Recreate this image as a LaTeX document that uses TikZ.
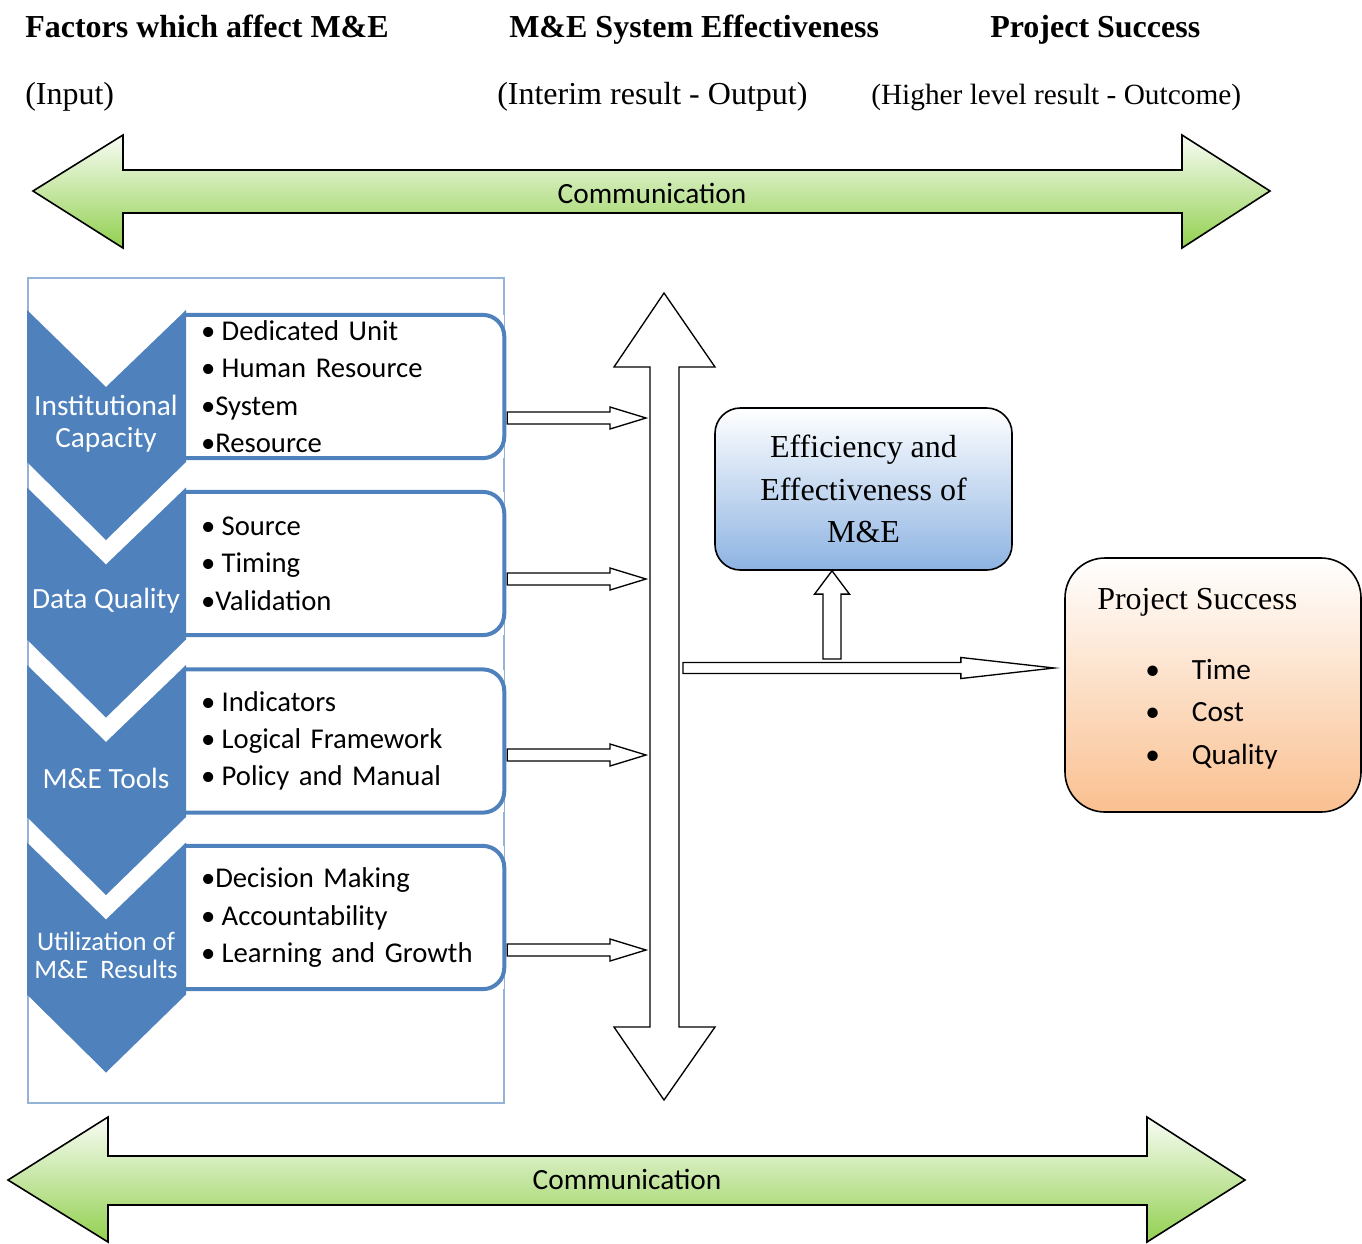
\documentclass[tikz,border=0pt]{standalone}
\usepackage{fontspec}
\setmainfont{Liberation Serif}
\newfontfamily\calibri{Carlito}
\usepackage{tikz}
\usetikzlibrary{calc}
\definecolor{chevB}{RGB}{79,129,189}
\definecolor{frameB}{RGB}{149,179,215}
\definecolor{commG}{RGB}{146,208,80}
\definecolor{effB}{RGB}{141,179,226}
\definecolor{succO}{RGB}{250,192,144}

% hollow block arrow: from, to, half shaft, half head, head length
\newcommand{\blockarrow}[5]{%
  \coordinate (ba-h) at ($(#2)!#5!(#1)$);
  \draw[hollow] ($(#1)!#3!90:(#2)$) -- ($(ba-h)!#3!-90:(#1)$) -- ($(ba-h)!#4!-90:(#1)$) -- (#2)
    -- ($(ba-h)!#4!90:(#1)$) -- ($(ba-h)!#3!90:(#1)$) -- ($(#1)!#3!-90:(#2)$) -- cycle;}
\newcommand{\bul}{\textbullet\hspace{4.8pt}}

\begin{document}
\begin{tikzpicture}[x=0.75pt, y=-0.75pt,
  head/.style={font=\fontsize{24}{28}\selectfont\bfseries, anchor=base west, inner sep=0pt},
  sub/.style={font=\fontsize{24}{28}\selectfont, anchor=base west, inner sep=0pt},
  comm/.style={draw=black, line width=1.2pt, line join=miter, top color=commG!6, bottom color=commG},
  commtext/.style={font=\calibri\fontsize{22}{24}\selectfont, inner sep=0pt},
  chev/.style={fill=chevB},
  clabel/.style={font=\calibri\fontsize{22}{24}\selectfont, text=white, align=center, inner sep=0pt},
  item/.style={rectangle, fill=white, minimum width=238.5pt, minimum height=107pt, text width=216pt,
               align=left, inner xsep=11.25pt, font=\calibri\fontsize{21.5}{28}\selectfont},
  itemline/.style={draw=chevB, line width=3pt, rounded corners=16pt},
  hollow/.style={draw=black, fill=white, line width=1pt, line join=miter},
  eff/.style={rectangle, rounded corners=19pt, draw=black, line width=1.2pt, top color=white,
              bottom color=effB, minimum width=222.75pt, minimum height=121.5pt, align=center,
              font=\fontsize{24}{32}\selectfont},
  succ/.style={rectangle, rounded corners=30pt, draw=black, line width=1.2pt, top color=white,
               bottom color=succO, minimum width=222pt, minimum height=190.5pt}]
  \useasboundingbox (0,0) rectangle (1362,1243);

  % headings
  \node[head] (h1) at (25,37) {Factors which affect M\&E};
  \node[head] (h2) at (509,37) {M\&E System Effectiveness};
  \node[head] (h3) at (990,37) {Project Success};
  \node[sub] (s1) at (25,104) {(Input)};
  \node[sub] (s2) at (497,104) {(Interim result - Output)};
  \node[sub, font=\fontsize{22}{26}\selectfont] (s3) at (871,104) {(Higher level result - Outcome)};

  % communication arrows
  \draw[comm] (33,191) -- (123,135) -- (123,170) -- (1182,170) -- (1182,135) -- (1270,191)
    -- (1182,248) -- (1182,213) -- (123,213) -- (123,248) -- cycle;
  \node[commtext] (ctop) at (652,193) {Communication};
  \draw[comm] (8,1180) -- (108,1117) -- (108,1156) -- (1147,1156) -- (1147,1117) -- (1245,1180)
    -- (1147,1242) -- (1147,1205) -- (108,1205) -- (108,1242) -- cycle;
  \node[commtext] (cbot) at (627,1179) {Communication};

  % factors
  \draw[frameB, line width=1.5pt] (28,278) rectangle (504,1103);
  \node[item] (b1) at (345,386.5) {\bul Dedicated Unit\\ \bul Human Resource\\ \textbullet System\\ \textbullet Resource};
  \node[item] (b2) at (345,563.5) {\bul Source\\ \bul Timing\\ \textbullet Validation};
  \node[item] (b3) at (345,741) {\bul Indicators\\ \bul Logical Framework\\ \bul Policy and Manual};
  \node[item] (b4) at (345,917.5) {\textbullet Decision Making\\ \bul Accountability\\ \bul Learning and Growth};
  \draw[itemline] (b1.north west) -- (b1.north east) -- (b1.south east) -- (b1.south west);
  \draw[itemline] (b2.north west) -- (b2.north east) -- (b2.south east) -- (b2.south west);
  \draw[itemline] (b3.north west) -- (b3.north east) -- (b3.south east) -- (b3.south west);
  \draw[itemline] (b4.north west) -- (b4.north east) -- (b4.south east) -- (b4.south west);

  \fill[chev] (27,310) -- (106,387) -- (186,310) -- (186,462) -- (106,540) -- (27,462) -- cycle;
  \fill[chev] (27,487.5) -- (106,564.5) -- (186,487.5) -- (186,639.5) -- (106,717.5) -- (27,639.5) -- cycle;
  \fill[chev] (27,665) -- (106,742) -- (186,665) -- (186,817) -- (106,895) -- (27,817) -- cycle;
  \fill[chev] (27,842.5) -- (106,919.5) -- (186,842.5) -- (186,994.5) -- (106,1072.5) -- (27,994.5) -- cycle;
  \node[clabel] (c1) at (106,424) {Institutional\\Capacity};
  \node[clabel] (c2) at (106,601) {Data Quality};
  \node[clabel] (c3) at (106,778) {M\&E Tools};
  \node[clabel, font=\calibri\fontsize{20}{21}\selectfont] (c4) at (106,955) {Utilization of\\M\&E\ \ Results};

  % system effectiveness
  \draw[hollow] (664,293) -- (715,367) -- (679,367) -- (679,1027) -- (715,1027) -- (664,1100)
    -- (614,1027) -- (650,1027) -- (650,367) -- (614,367) -- cycle;
  \coordinate (vw) at (646,0);
  \coordinate (a1) at ($(b1.east)+(3,31.5)$); \coordinate (t1) at (vw |- a1);
  \coordinate (a2) at ($(b2.east)+(3,15.5)$); \coordinate (t2) at (vw |- a2);
  \coordinate (a3) at ($(b3.east)+(3,14)$);   \coordinate (t3) at (vw |- a3);
  \coordinate (a4) at ($(b4.east)+(3,32.5)$); \coordinate (t4) at (vw |- a4);
  \blockarrow{a1}{t1}{4.5pt}{8.25pt}{27pt}
  \blockarrow{a2}{t2}{4.5pt}{8.25pt}{27pt}
  \blockarrow{a3}{t3}{4.5pt}{8.25pt}{27pt}
  \blockarrow{a4}{t4}{4.5pt}{8.25pt}{27pt}

  \node[eff] (eff) at (863.5,489) {Efficiency and\\Effectiveness of\\M\&E};
  \node[succ] (ps) at (1213,685) {};
  \node[sub] (pst) at (1097,609) {Project Success};
  \node[anchor=west, align=left, inner sep=0pt, font=\calibri\fontsize{22}{32}\selectfont] (psl) at (1145,714)
      {\textbullet\hspace{24pt}Time\\ \textbullet\hspace{24pt}Cost\\ \textbullet\hspace{24pt}Quality};

  \coordinate (us) at (832,659);
  \coordinate (ue) at ($(eff.south)+(-31.5,0)$);
  \blockarrow{us}{ue}{6.75pt}{13.1pt}{17.5pt}
  \coordinate (hs) at (683,668);
  \coordinate (he) at ($(ps.west)+(-10,-17)$);
  \blockarrow{hs}{he}{4.1pt}{7.9pt}{70pt}
\end{tikzpicture}
\end{document}
